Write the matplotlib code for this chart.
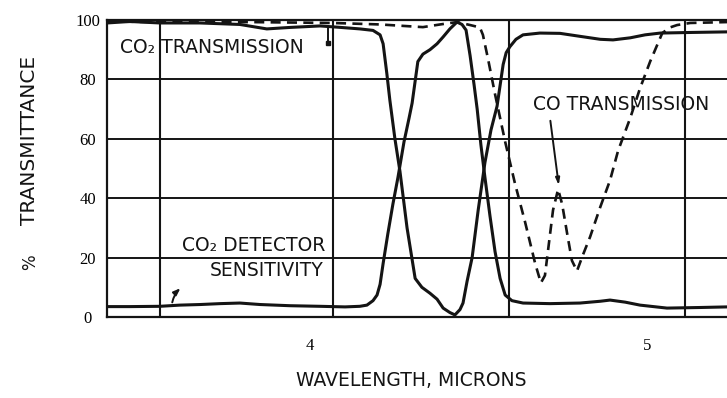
import matplotlib
matplotlib.use("Agg")
import matplotlib.pyplot as plt

plt.rcParams['font.family'] = ['DejaVu Sans']

# ---- data (wavelength in microns, % transmittance) ----
co2_trans_wl = [3.398, 3.466, 3.555, 3.674, 3.792, 3.872, 3.941, 4.030, 4.080, 4.148,
                4.187, 4.208, 4.217, 4.228, 4.237, 4.252, 4.267, 4.288, 4.312, 4.332,
                4.356, 4.377, 4.395, 4.415, 4.430, 4.445, 4.454, 4.466, 4.481, 4.499,
                4.519, 4.537, 4.555, 4.573, 4.582, 4.593, 4.611, 4.632, 4.682, 4.742,
                4.801, 4.861, 4.899, 4.950, 4.994, 5.039, 5.128, 5.237]
co2_trans_val = [99.0, 99.5, 99.0, 99.0, 98.5, 97.0, 97.5, 98.0, 97.6, 97.0,
                 96.5, 95.0, 92.0, 82.0, 73.0, 60.0, 49.0, 30.0, 13.0, 10.0,
                 8.0, 6.0, 3.0, 1.5, 0.7, 2.5, 4.7, 12.0, 20.0, 36.0,
                 52.0, 63.0, 71.0, 85.0, 89.0, 91.0, 93.5, 95.0, 95.6, 95.5,
                 94.5, 93.5, 93.3, 94.0, 95.0, 95.6, 95.8, 96.0]

detector_wl = [3.398, 3.466, 3.555, 3.614, 3.674, 3.733, 3.792, 3.852, 3.941, 4.030,
               4.104, 4.148, 4.169, 4.187, 4.199, 4.208, 4.217, 4.231, 4.246, 4.261,
               4.279, 4.294, 4.303, 4.320, 4.335, 4.356, 4.377, 4.395, 4.415, 4.436,
               4.451, 4.463, 4.475, 4.487, 4.496, 4.507, 4.519, 4.534, 4.549, 4.564,
               4.579, 4.599, 4.632, 4.712, 4.801, 4.861, 4.890, 4.935, 4.979, 5.059,
               5.157, 5.237]
detector_val = [3.5, 3.5, 3.6, 4.0, 4.2, 4.5, 4.7, 4.2, 3.8, 3.6,
                3.4, 3.6, 4.0, 5.5, 7.4, 11.0, 18.0, 28.0, 38.0, 47.0,
                59.0, 67.0, 72.0, 86.0, 88.5, 90.0, 92.0, 94.3, 97.0, 99.3,
                98.5, 96.6, 88.0, 78.0, 70.0, 58.0, 47.0, 34.0, 22.0, 13.0,
                7.4, 5.5, 4.7, 4.5, 4.7, 5.3, 5.7, 5.0, 4.0, 3.0,
                3.2, 3.4]

co_trans_wl = [3.398, 3.555, 3.822, 4.068, 4.208, 4.335, 4.386, 4.436, 4.475, 4.504,
               4.513, 4.528, 4.549, 4.579, 4.608, 4.638, 4.668, 4.685, 4.697, 4.709,
               4.721, 4.736, 4.748, 4.763, 4.777, 4.792, 4.810, 4.831, 4.861, 4.890,
               4.914, 4.950, 4.979, 5.009, 5.045, 5.068, 5.089, 5.128, 5.237]
co_trans_val = [99.5, 99.3, 99.3, 99.0, 98.5, 97.6, 98.5, 99.3, 98.3, 97.5,
                95.0, 87.0, 75.0, 59.0, 45.0, 32.0, 18.0, 11.5, 14.0, 25.0,
                36.0, 43.0, 38.0, 28.0, 19.0, 15.5, 21.0, 27.0, 37.0, 46.0,
                56.0, 67.0, 77.0, 86.0, 95.6, 97.5, 98.3, 99.0, 99.3]

grid_x = [3.555, 4.068, 4.591, 5.113]
grid_y = [20, 40, 60, 80]
y_ticks = [0, 20, 40, 60, 80, 100]
x_ticks = [4, 5]

INK = '#141414'

fig = plt.figure(figsize=(7.27, 3.98), dpi=100)
ax = fig.add_axes([107 / 727, 81 / 398, 620 / 727, 297 / 398])
ax.set_xlim(3.398, 5.237)
ax.set_ylim(0, 100)

for gx in grid_x:
    ax.axvline(gx, color=INK, lw=1.5, zorder=1)
for gy in grid_y:
    ax.axhline(gy, color=INK, lw=1.4, zorder=1)

ax.plot(co2_trans_wl, co2_trans_val, color=INK, lw=2.2, zorder=3)
ax.plot(detector_wl, detector_val, color=INK, lw=2.2, zorder=3)
ax.plot(co_trans_wl, co_trans_val, color=INK, lw=1.9, ls=(0, (3.8, 2.4)), zorder=3)

for side in ['left', 'bottom', 'top']:
    ax.spines[side].set_linewidth(1.6)
    ax.spines[side].set_color(INK)
ax.spines['right'].set_visible(False)

ax.set_yticks(y_ticks)
ax.set_yticklabels([str(v) for v in y_ticks], fontfamily='Liberation Serif', fontsize=12)
ax.tick_params(axis='y', length=0, pad=14)
for lab in ax.get_yticklabels():
    lab.set_horizontalalignment('center')
ax.set_xticks(x_ticks)
ax.set_xticklabels([str(v) for v in x_ticks], fontfamily='Liberation Serif', fontsize=12)
ax.tick_params(axis='x', length=0, pad=15)

fs = 13.5
ax.text(3.436, 90.6, 'CO\u2082 TRANSMISSION', fontsize=fs, ha='left', va='center', color=INK)
ax.plot([4.053, 4.053], [97.3, 92.3], color=INK, lw=1.4, zorder=4)
ax.plot([4.053], [92.3], marker='s', ms=3.5, color=INK, zorder=4)

ax.text(4.662, 71.7, 'CO TRANSMISSION', fontsize=fs, ha='left', va='center', color=INK,
        zorder=5)
ax.annotate('', xy=(4.739, 43.4), xytext=(4.712, 67.0),
            arrowprops=dict(arrowstyle='-|>,head_length=0.4,head_width=0.12', color=INK, lw=1.4))

ax.text(4.045, 24.2, 'CO\u2082 DETECTOR', fontsize=fs, ha='right', va='center', color=INK)
ax.text(4.039, 15.8, 'SENSITIVITY', fontsize=fs, ha='right', va='center', color=INK)
ax.annotate('', xy=(3.622, 10.3), xytext=(3.590, 4.0),
            arrowprops=dict(arrowstyle='-|>,head_length=0.4,head_width=0.15', color=INK, lw=1.4,
                            connectionstyle='arc3,rad=-0.2'))

fig.text(30 / 727, 1 - 140 / 398, 'TRANSMITTANCE', rotation=90, fontsize=14.5,
         ha='center', va='center', color=INK)
fig.text(30 / 727, 1 - 262 / 398, '%', rotation=90, fontsize=12,
         ha='center', va='center', color=INK)
fig.text(411 / 727, 1 - 380 / 398, 'WAVELENGTH, MICRONS', fontsize=13.5,
         ha='center', va='center', color=INK)

fig.savefig('out.png', dpi=100, facecolor='white')
